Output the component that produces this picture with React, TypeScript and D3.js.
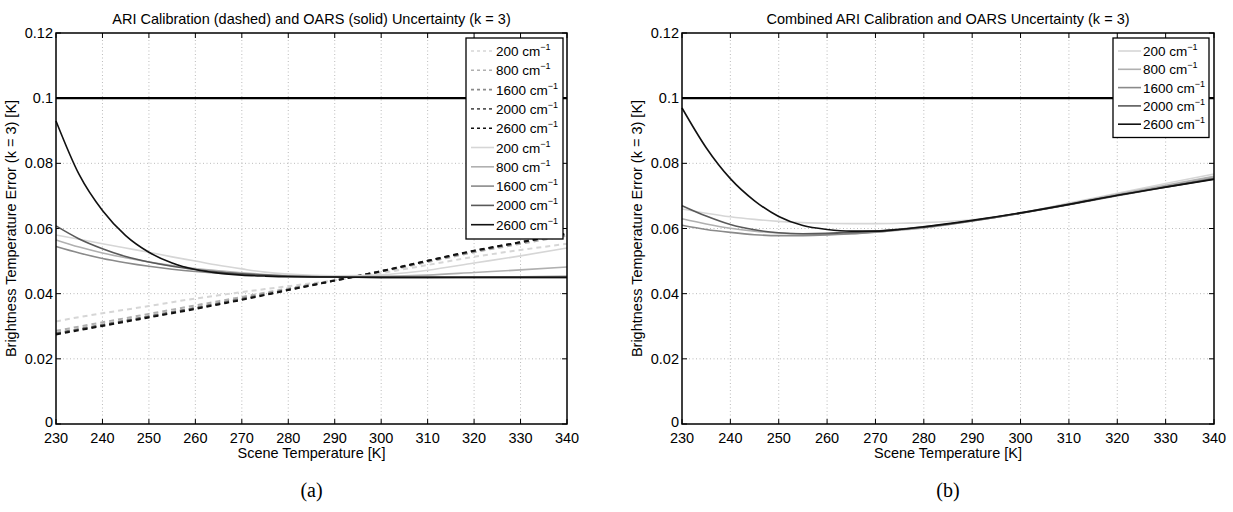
import React from "react";
import * as d3 from "d3";

// scene temperatures [K] at which the curves were read
const temps = [230, 235, 240, 245, 250, 255, 260, 265, 270, 275, 280, 290, 300, 310, 320, 330, 340];
const wavenumbers = ["200", "800", "1600", "2000", "2600"];
const shades = ["#d6d6d6", "#b0b0b0", "#8a8a8a", "#595959", "#111111"];

// panel (a) dashed: ARI calibration
const ari200 = [0.0315, 0.0328, 0.034, 0.0351, 0.0362, 0.0374, 0.0385, 0.0395, 0.0405, 0.0414, 0.0423, 0.0441, 0.0463, 0.0488, 0.0513, 0.0534, 0.0553];
const ari800 = [0.0286, 0.0299, 0.0312, 0.0325, 0.0338, 0.0351, 0.0364, 0.0377, 0.039, 0.0403, 0.0416, 0.0441, 0.0467, 0.0497, 0.0527, 0.0553, 0.0578];
const ari1600 = [0.0279, 0.0292, 0.0305, 0.0318, 0.0331, 0.0344, 0.0357, 0.0371, 0.0385, 0.0399, 0.0413, 0.0441, 0.0469, 0.05, 0.053, 0.0557, 0.0583];
const ari2000 = [0.0277, 0.029, 0.0303, 0.0316, 0.0329, 0.0342, 0.0355, 0.0369, 0.0383, 0.0397, 0.0412, 0.044, 0.0469, 0.0501, 0.0531, 0.0558, 0.0584];
const ari2600 = [0.0275, 0.0288, 0.0301, 0.0314, 0.0327, 0.034, 0.0353, 0.0367, 0.0381, 0.0396, 0.0411, 0.044, 0.0469, 0.0501, 0.0532, 0.0558, 0.0585];

// panel (a) solid: OARS
const oars200 = [0.058, 0.0567, 0.0553, 0.054, 0.0527, 0.0513, 0.05, 0.0487, 0.0476, 0.0466, 0.046, 0.0455, 0.0458, 0.0472, 0.0494, 0.0516, 0.054];
const oars800 = [0.0565, 0.0543, 0.0525, 0.051, 0.0497, 0.0486, 0.0477, 0.047, 0.0464, 0.0459, 0.0455, 0.0452, 0.0453, 0.0457, 0.0465, 0.0473, 0.0482];
const oars1600 = [0.0545, 0.0525, 0.0508, 0.0495, 0.0484, 0.0475, 0.0468, 0.0463, 0.0459, 0.0456, 0.0453, 0.0451, 0.045, 0.045, 0.0451, 0.0452, 0.0453];
const oars2000 = [0.0608, 0.0568, 0.0538, 0.0514, 0.0497, 0.0484, 0.0474, 0.0466, 0.0461, 0.0457, 0.0454, 0.0451, 0.045, 0.045, 0.045, 0.045, 0.045];
const oars2600 = [0.093, 0.0765, 0.0655, 0.0578, 0.0527, 0.0494, 0.0474, 0.0463, 0.0457, 0.0454, 0.0452, 0.0451, 0.045, 0.045, 0.045, 0.045, 0.045];

// panel (b): combined
const comb200 = [0.066, 0.0647, 0.0636, 0.0628, 0.0622, 0.0618, 0.0616, 0.0615, 0.0615, 0.0616, 0.0618, 0.0627, 0.0648, 0.0678, 0.0708, 0.0738, 0.0767];
const comb800 = [0.063, 0.0614, 0.0601, 0.0592, 0.0586, 0.0583, 0.0582, 0.0584, 0.0589, 0.0595, 0.0602, 0.0623, 0.0648, 0.0676, 0.0705, 0.0733, 0.076];
const comb1600 = [0.061, 0.0597, 0.0588, 0.0581, 0.0578, 0.0578, 0.058, 0.0584, 0.0589, 0.0596, 0.0603, 0.0623, 0.0647, 0.0674, 0.0702, 0.0729, 0.0755];
const comb2000 = [0.067, 0.0638, 0.0612, 0.0596, 0.0587, 0.0584, 0.0585, 0.0588, 0.0592, 0.0598, 0.0605, 0.0624, 0.0647, 0.0673, 0.0701, 0.0727, 0.0752];
const comb2600 = [0.097, 0.0848, 0.0753, 0.0685, 0.0637, 0.0609, 0.0597, 0.0592, 0.0592, 0.0597, 0.0605, 0.0625, 0.0648, 0.0674, 0.0702, 0.0727, 0.0751];

const limitLevel = 0.1;
const xTicks = [230, 240, 250, 260, 270, 280, 290, 300, 310, 320, 330, 340];
const yTicks = [0, 0.02, 0.04, 0.06, 0.08, 0.1, 0.12];

const font = "'Liberation Sans', Arial, Helvetica, sans-serif";
const TOP = 33;
const BOTTOM = 424;
const FS = 14.5;

type Series = { values: number[]; color: string; dashed: boolean };

function Panel(props: {
  left: number;
  right: number;
  title: string;
  caption: string;
  series: Series[];
  legend: { x: number; y: number; w: number; row: number };
}) {
  const { left, right, title, caption, series, legend } = props;
  const x = d3.scaleLinear().domain([230, 340]).range([left, right]);
  const y = d3.scaleLinear().domain([0, 0.12]).range([BOTTOM, TOP]);
  const line = d3
    .line<number>()
    .x((_, i) => x(temps[i]))
    .y((d) => y(d))
    .curve(d3.curveMonotoneX);
  const cx = (left + right) / 2;
  const legH = legend.row * series.length + 8;

  return (
    <g fontFamily={font}>
      {/* grid */}
      {xTicks.slice(1, -1).map((t) => (
        <line key={"gx" + t} x1={x(t)} x2={x(t)} y1={TOP} y2={BOTTOM} stroke="#aaa" strokeWidth={0.8} strokeDasharray="1,2.5" />
      ))}
      {yTicks.slice(1, -1).map((t) => (
        <line key={"gy" + t} x1={left} x2={right} y1={y(t)} y2={y(t)} stroke="#aaa" strokeWidth={0.8} strokeDasharray="1,2.5" />
      ))}
      {/* ticks */}
      {xTicks.map((t) => (
        <g key={"tx" + t}>
          <line x1={x(t)} x2={x(t)} y1={BOTTOM} y2={BOTTOM - 5} stroke="#000" />
          <line x1={x(t)} x2={x(t)} y1={TOP} y2={TOP + 5} stroke="#000" />
          <text x={x(t)} y={443} fontSize={FS} textAnchor="middle">{t}</text>
        </g>
      ))}
      {yTicks.map((t) => (
        <g key={"ty" + t}>
          <line x1={left} x2={left + 5} y1={y(t)} y2={y(t)} stroke="#000" />
          <line x1={right} x2={right - 5} y1={y(t)} y2={y(t)} stroke="#000" />
          <text x={left - 3} y={y(t) + (t === 0 ? 3 : 5)} fontSize={FS} textAnchor="end">{String(t)}</text>
        </g>
      ))}
      {/* curves */}
      {series.map((s, i) => (
        <path key={"s" + i} d={line(s.values) || ""} fill="none" stroke={s.color} strokeWidth={s.dashed ? 2 : 1.6} strokeDasharray={s.dashed ? "5,4" : undefined} />
      ))}
      <line x1={left} x2={right} y1={y(limitLevel)} y2={y(limitLevel)} stroke="#000" strokeWidth={2.2} />
      {/* frame */}
      <rect x={left} y={TOP} width={right - left} height={BOTTOM - TOP} fill="none" stroke="#000" strokeWidth={1.5} />
      {/* legend */}
      <rect x={legend.x} y={legend.y} width={legend.w} height={legH} fill="#fff" stroke="#000" strokeWidth={1.3} />
      {series.map((s, i) => {
        const ly = legend.y + 13 + i * legend.row;
        return (
          <g key={"l" + i}>
            <line x1={legend.x + 5} x2={legend.x + 28} y1={ly} y2={ly} stroke={s.color} strokeWidth={1.6} strokeDasharray={s.dashed ? "3,3" : undefined} />
            <text x={legend.x + 30} y={ly + 5} fontSize={13.5}>
              {wavenumbers[i % 5]} cm
              <tspan dy={-6} fontSize={9}>−1</tspan>
            </text>
          </g>
        );
      })}
      {/* labels */}
      <text x={cx} y={24} fontSize={FS} textAnchor="middle">{title}</text>
      <text x={cx} y={458} fontSize={FS} textAnchor="middle">Scene Temperature [K]</text>
      <text transform={`translate(${left - 40},${(TOP + BOTTOM) / 2}) rotate(-90)`} fontSize={FS} textAnchor="middle">
        Brightness Temperature Error (k = 3) [K]
      </text>
      <text x={cx} y={497} fontSize={20} fontFamily="'Liberation Serif', 'Times New Roman', serif" textAnchor="middle">{caption}</text>
    </g>
  );
}

export default function App() {
  const ari = [ari200, ari800, ari1600, ari2000, ari2600];
  const oars = [oars200, oars800, oars1600, oars2000, oars2600];
  const comb = [comb200, comb800, comb1600, comb2000, comb2600];
  const seriesA: Series[] = [
    ...ari.map((v, i) => ({ values: v, color: shades[i], dashed: true })),
    ...oars.map((v, i) => ({ values: v, color: shades[i], dashed: false })),
  ];
  const seriesB: Series[] = comb.map((v, i) => ({ values: v, color: shades[i], dashed: false }));
  return (
    <svg width={1233} height={512} style={{ position: "absolute", left: 0, top: 0, background: "#fff" }}>
      <rect width={1233} height={512} fill="#fff" />
      <Panel
        left={56}
        right={567}
        title="ARI Calibration (dashed) and OARS (solid) Uncertainty (k = 3)"
        caption="(a)"
        series={seriesA}
        legend={{ x: 466, y: 38, w: 97, row: 19.3 }}
      />
      <Panel
        left={682}
        right={1214}
        title="Combined ARI Calibration and OARS Uncertainty (k = 3)"
        caption="(b)"
        series={seriesB}
        legend={{ x: 1113, y: 38, w: 96, row: 18.3 }}
      />
    </svg>
  );
}
